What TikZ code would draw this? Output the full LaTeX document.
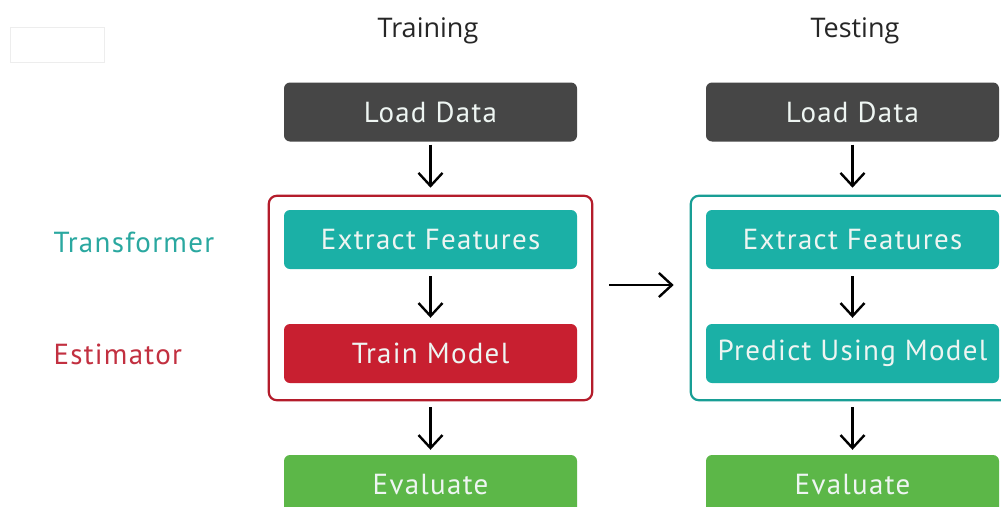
\documentclass[tikz,border=0pt]{standalone}
\usepackage{fontspec}
\setmainfont{PT Sans}[LetterSpace=4.4]
\newfontfamily\titlefont{Open Sans}
\usetikzlibrary{arrows.meta,fit,calc}

\definecolor{loadgray}{HTML}{464646}
\definecolor{tealc}{HTML}{1BB0A6}
\definecolor{redc}{HTML}{C81F30}
\definecolor{greenc}{HTML}{5CB748}
\definecolor{boxtext}{HTML}{EEF5F2}
\definecolor{tealtxt}{HTML}{2AA8A0}
\definecolor{redtxt}{HTML}{C23040}

\tikzset{
  stepbox/.style={rounded corners=6pt, minimum width=293pt, minimum height=59pt,
    inner sep=0pt, text=boxtext, font=\fontsize{29}{31}\selectfont},
  groupbox/.style={draw, line width=2.2pt, rounded corners=8pt, inner xsep=15pt,
    inner ysep=15pt},
  flow/.style={line width=2.4pt, -{Straight Barb[length=13pt,width=24pt,line width=2.4pt]}},
  headline/.style={font=\titlefont\fontsize{27}{30}\selectfont, text=black!85},
  sidelabel/.style={anchor=west, font=\fontsize{29}{31}\selectfont}
}

\begin{document}
\begin{tikzpicture}[x=1pt,y=-1pt]
\useasboundingbox[fill=white] (0,0) rectangle (1001,506);

% small empty frame in the top left corner
\draw[black!7, line width=0.8pt] (10,27) rectangle (104,62);

% column headings
\node[headline] (ttrain) at (428,31) {Training};
\node[headline] (ttest) at (855,31) {Testing};

% training column
\node[stepbox, fill=loadgray] (loadL) at (430.5,112) {Load Data};
\node[stepbox, fill=tealc] (extL) at (430.5,239.5) {Extract Features};
\node[stepbox, fill=redc] (trainL) at (430.5,353.5) {Train Model};
\node[stepbox, fill=greenc, minimum height=60pt] (evalL) at (430.5,485) {Evaluate};

% testing column
\node[stepbox, fill=loadgray] (loadR) at (852.5,112) {Load Data};
\node[stepbox, fill=tealc] (extR) at (852.5,239.5) {Extract Features};
\node[stepbox, fill=tealc] (predR) at (852.5,353.5) {Predict Using Model};
\node[stepbox, fill=greenc, minimum height=60pt] (evalR) at (852.5,485) {Evaluate};

% pipeline frames
\node[groupbox, draw=redc!90!black, fit=(extL)(trainL), yshift=-1.5pt, inner ysep=15.5pt] (boxL) {};
\node[groupbox, draw=tealc!90!black, fit=(extR)(predR), yshift=-1.5pt, inner ysep=15.5pt] (boxR) {};

% side labels
\node[sidelabel, text=tealtxt] (ltrans) at (50,242) {Transformer};
\node[sidelabel, text=redtxt] (lest) at (50,354) {Estimator};

% arrows
\draw[flow] ([yshift=-3pt]loadL.south) -- ([yshift=7pt]boxL.north);
\draw[flow] ([yshift=-7pt]extL.south) -- ([yshift=6pt]trainL.north);
\draw[flow] ([yshift=-6pt]boxL.south) -- ([yshift=5pt]evalL.north);
\draw[flow] ([yshift=-3pt]loadR.south) -- ([yshift=7pt]boxR.north);
\draw[flow] ([yshift=-7pt]extR.south) -- ([yshift=6pt]predR.north);
\draw[flow] ([yshift=-6pt]boxR.south) -- ([yshift=5pt]evalR.north);
\draw[flow] ([xshift=16pt,yshift=13pt]boxL.east) -- ([xshift=-16pt,yshift=13pt]boxR.west);
\end{tikzpicture}
\end{document}
